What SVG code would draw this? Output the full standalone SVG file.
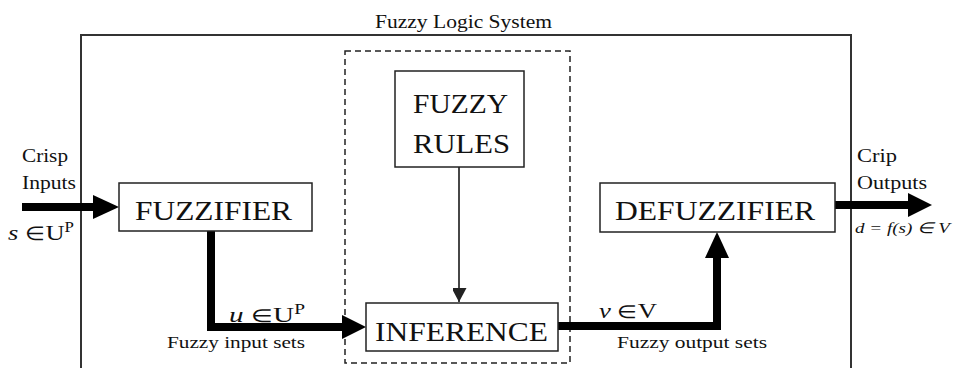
<svg xmlns="http://www.w3.org/2000/svg" width="958" height="368" viewBox="0 0 958 368">
<style>
text{font-family:"Liberation Serif","Times New Roman",serif;fill:#111}
.box{fill:#fff;stroke:#222;stroke-width:1.5}
.big{font-size:28px}
.lbl{font-size:18px}
.sm{font-size:16px}
.thick{fill:none;stroke:#000;stroke-width:8}
</style>
<defs>
<marker id="thin" markerWidth="15" markerHeight="14" refX="14" refY="7.5" orient="auto" markerUnits="userSpaceOnUse">
<path d="M0,0 L14,7.5 L0,15 Z" fill="#222"/>
</marker>
</defs>
<rect x="0" y="0" width="958" height="368" fill="#fff"/>
<g id="system">
<rect x="81" y="35" width="770" height="340" fill="none" stroke="#333" stroke-width="2"/>
<text x="375" y="28" class="lbl" textLength="177" lengthAdjust="spacingAndGlyphs">Fuzzy Logic System</text>
<rect x="345" y="51" width="225" height="312" fill="none" stroke="#222" stroke-width="1.5" stroke-dasharray="6,4"/>
</g>
<g id="connectors">
<path class="thick" d="M22,207 H96"/>
<path d="M93,195 L119,207 L93,219 Z" fill="#000"/>
<path class="thick" d="M211,231 V327 H345"/>
<path d="M342,315 L366,327 L342,339 Z" fill="#000"/>
<path class="thick" d="M558,326 H717 V256"/>
<path d="M705,258 L717,232 L729,258 Z" fill="#000"/>
<path class="thick" d="M835,205 H912"/>
<path d="M908,193 L932,205 L908,217 Z" fill="#000"/>
<line x1="459" y1="167" x2="459" y2="302" stroke="#333" stroke-width="1.8" marker-end="url(#thin)"/>
</g>
<g id="fuzzifier">
<rect class="box" x="119" y="183" width="193" height="48"/>
<text class="big" x="135" y="220" textLength="157" lengthAdjust="spacingAndGlyphs">FUZZIFIER</text>
</g>
<g id="rules">
<rect class="box" x="395" y="71" width="129" height="96"/>
<text class="big" x="413" y="113" textLength="95" lengthAdjust="spacingAndGlyphs">FUZZY</text>
<text class="big" x="413" y="153" textLength="97" lengthAdjust="spacingAndGlyphs">RULES</text>
</g>
<g id="inference">
<rect class="box" x="366" y="303" width="192" height="48"/>
<text class="big" x="375" y="341" textLength="173" lengthAdjust="spacingAndGlyphs">INFERENCE</text>
</g>
<g id="defuzzifier">
<rect class="box" x="600" y="183" width="235" height="49"/>
<text class="big" x="615" y="220" textLength="200" lengthAdjust="spacingAndGlyphs">DEFUZZIFIER</text>
</g>
<g id="labels">
<text class="lbl" x="22" y="162" textLength="46" lengthAdjust="spacingAndGlyphs">Crisp</text>
<text class="lbl" x="22" y="189" textLength="54" lengthAdjust="spacingAndGlyphs">Inputs</text>
<text x="8" y="240" font-size="22" textLength="66" lengthAdjust="spacingAndGlyphs"><tspan font-style="italic">s</tspan> <tspan font-size="19">∈</tspan>U<tspan dy="-8" font-size="14">P</tspan></text>
<text class="lbl" x="857" y="162" textLength="40" lengthAdjust="spacingAndGlyphs">Crip</text>
<text class="lbl" x="857" y="189" textLength="70" lengthAdjust="spacingAndGlyphs">Outputs</text>
<text x="855" y="233" font-size="15" font-style="italic" textLength="95" lengthAdjust="spacingAndGlyphs">d = f(s) ∈ V</text>
<text x="229" y="322" font-size="21" textLength="76" lengthAdjust="spacingAndGlyphs"><tspan font-style="italic">u</tspan>  <tspan font-size="18">∈</tspan>U<tspan dy="-8" font-size="14">P</tspan></text>
<text class="sm" x="167" y="348" textLength="138" lengthAdjust="spacingAndGlyphs">Fuzzy input sets</text>
<text x="599" y="318" font-size="21" textLength="58" lengthAdjust="spacingAndGlyphs"><tspan font-style="italic">v</tspan>  <tspan font-size="18">∈</tspan>V</text>
<text class="sm" x="617" y="348" textLength="150" lengthAdjust="spacingAndGlyphs">Fuzzy output sets</text>
</g>
</svg>
